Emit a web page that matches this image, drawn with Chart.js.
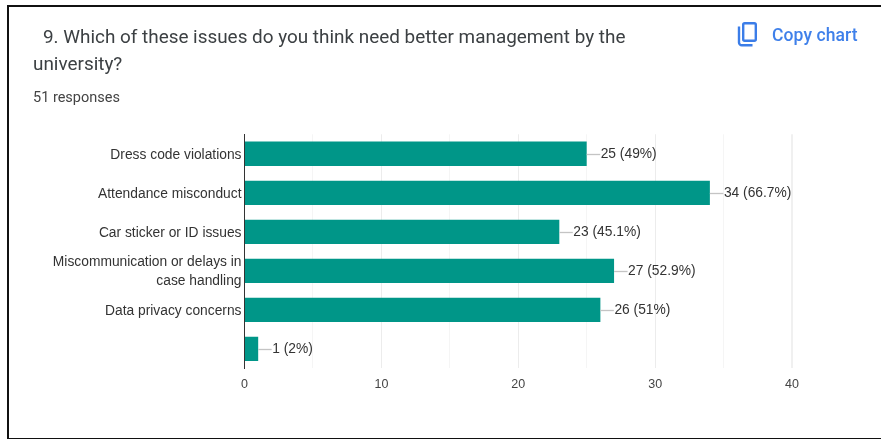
<!DOCTYPE html>
<html>
<head>
<meta charset="utf-8">
<script src="https://cdn.jsdelivr.net/npm/chart.js@4"></script>
<style>
html,body{margin:0;padding:0;background:#fff;width:881px;height:439px;overflow:hidden}
#wrap{position:relative;width:881px;height:439px}
canvas{position:absolute;left:0;top:0}
.frame{position:absolute;left:7px;top:5px;width:880px;height:431px;border:2px solid #111;box-sizing:content-box}
.t{position:absolute;font-family:Roboto,sans-serif;color:#3c4043;white-space:nowrap}
</style>
</head>
<body>
<div id="wrap">
<canvas id="c" width="881" height="439"></canvas>
<div class="frame"></div>
<div class="t" style="left:43px;top:25px;font-size:18.9px;line-height:24px">9. Which of these issues do you think need better management by the</div>
<div class="t" style="left:33px;top:52px;font-size:18.9px;line-height:24px">university?</div>
<div class="t" style="left:33px;top:89px;font-size:14.5px;line-height:18px;color:#444">51 responses</div>
<svg style="position:absolute;left:736px;top:21px" width="24" height="27" viewBox="0 0 24 27" fill="none" stroke="#3b7de8" stroke-width="2.4">
<rect x="7.2" y="2.2" width="12.6" height="17.5" rx="1.5"/>
<path d="M3 5.5V21.5a2.8 2.8 0 0 0 2.8 2.8H16.5"/>
</svg>
<div class="t" style="left:772px;top:25px;font-size:17.5px;line-height:20px;color:#3f80ea;font-weight:500;letter-spacing:.1px">Copy chart</div>
</div>
<script>
const categories = ["Dress code violations","Attendance misconduct","Car sticker or ID issues",["Miscommunication or delays in","case handling"],"Data privacy concerns",""];
const counts = [25,34,23,27,26,1];
const shares = ["49%","66.7%","45.1%","52.9%","51%","2%"];
const axisMax = 40;
const axisStep = 5;

const valueLabels = {
  id:'valueLabels',
  afterDatasetsDraw(chart){
    const {ctx} = chart, x = chart.scales.x;
    chart.getDatasetMeta(0).data.forEach((bar,i)=>{
      const px = x.getPixelForValue(counts[i]);
      ctx.save();
      ctx.strokeStyle='#c4c4c4'; ctx.lineWidth=1.3;
      ctx.beginPath(); ctx.moveTo(px,Math.round(bar.y)+.5); ctx.lineTo(px+13.5,Math.round(bar.y)+.5); ctx.stroke();
      ctx.fillStyle='#333'; ctx.font='13.8px "Liberation Sans"'; ctx.textBaseline='middle'; ctx.textAlign='left';
      ctx.fillText(`${counts[i]} (${shares[i]})`,px+14,bar.y);
      ctx.restore();
    });
  }
};

new Chart(document.getElementById('c'),{
  type:'bar',
  data:{labels:categories,datasets:[{data:counts,backgroundColor:'#009688',borderWidth:0,barPercentage:.625,categoryPercentage:1}]},
  plugins:[valueLabels],
  options:{
    indexAxis:'y',responsive:false,animation:false,
    layout:{padding:{top:134.3,right:89,left:0,bottom:0}},
    plugins:{legend:{display:false},tooltip:{enabled:false},title:{display:false}},
    scales:{
      x:{min:0,max:axisMax,
        afterFit(s){s.height=70.6;},
        border:{display:false},
        grid:{drawTicks:false,lineWidth:c=>c.tick&&c.tick.value===axisMax?2:1,color:c=>c.tick&&c.tick.value===axisMax?'#f0f0f0':(c.tick&&c.tick.value%10===0?'#ececec':'#f5f5f5')},
        ticks:{stepSize:axisStep,autoSkip:false,maxRotation:0,padding:9,color:'#444',font:{family:'"Liberation Sans"',size:12.5},callback:v=>v%10===0?v:''}
      },
      y:{
        afterFit(s){s.width=244.5;},
        border:{display:true,color:'#333',width:1},
        grid:{display:false,drawTicks:false},
        ticks:{padding:3,labelOffset:1,color:'#333',autoSkip:false,font:{family:'"Liberation Sans"',size:13.8,lineHeight:1.38}}
      }
    }
  }
});
</script>
</body>
</html>
